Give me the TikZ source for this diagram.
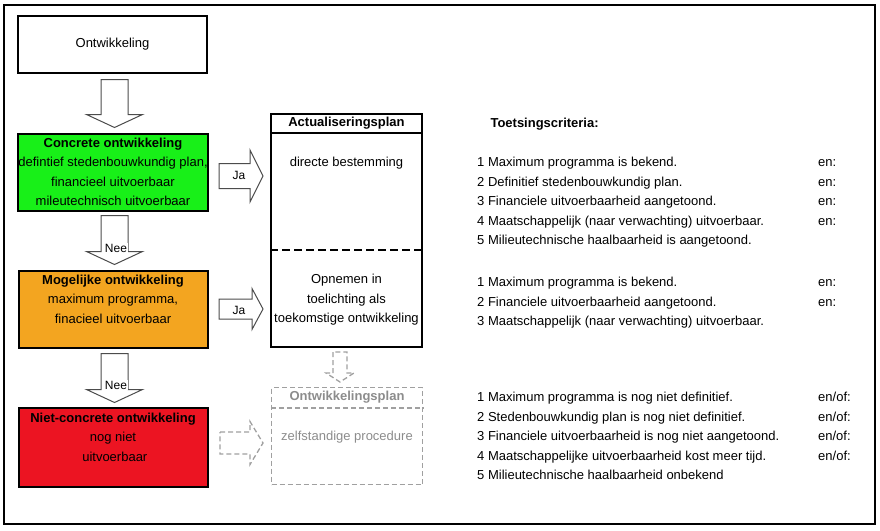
\documentclass[tikz,border=0pt]{standalone}
\usepackage{fontspec}
\setmainfont{Liberation Sans}
\usetikzlibrary{calc}
\definecolor{groen}{RGB}{24,240,24}
\definecolor{oranje}{RGB}{243,165,32}
\definecolor{rood}{RGB}{236,20,34}
\definecolor{grijs}{RGB}{160,160,160}
\def\pijlneer[#1](#2)(#3)(#4:#5:#6){\draw[#1] ($(#2)+(-#4,0)$) -- ($(#3)+(-#4,-#6)$) -- ($(#3)+(-#5,-#6)$) -- (#3) -- ($(#3)+(#5,-#6)$) -- ($(#3)+(#4,-#6)$) -- ($(#2)+(#4,0)$) -- cycle;}
\def\pijlrechts[#1](#2)(#3)(#4:#5:#6){\draw[#1] ($(#2)+(0,-#4)$) -- ($(#3)+(-#6,-#4)$) -- ($(#3)+(-#6,-#5)$) -- (#3) -- ($(#3)+(-#6,#5)$) -- ($(#3)+(-#6,#4)$) -- ($(#2)+(0,#4)$) -- cycle;}

\begin{document}
\begin{tikzpicture}[x=1pt, y=-1pt,
		every node/.style={font=\fontsize{13}{19.5}\selectfont},
		vak/.style={draw, line width=2pt, align=center, inner sep=0pt, minimum width=189},
		blok/.style={draw=black!70, line width=1pt, fill=white},
		stippelblok/.style={draw=grijs, line width=1.3pt, dash pattern=on 5pt off 3pt},
		grijstekst/.style={text=black!45},
		klein/.style={font=\fontsize{12}{14}\selectfont, inner sep=1pt}]
		%%%%% START %%%%%
		
		\useasboundingbox (0,0) rectangle (880,530);
		\draw[line width=2.5pt] (4,5) rectangle (875,524);
		
		% linker kolom
		\node[vak, minimum height=57] (ontw) at (112.5,44) {Ontwikkeling};
		\node[vak, fill=groen, minimum height=77] (concreet) at (113,172) {\textbf{Concrete ontwikkeling}\\defintief stedenbouwkundig plan,\\financieel uitvoerbaar\\mileutechnisch uitvoerbaar};
		\node[vak, fill=oranje, minimum height=77] (mogelijk) at (113,309) {\textbf{Mogelijke ontwikkeling}\\maximum programma,\\finacieel uitvoerbaar\\\mbox{}};
		\node[vak, fill=rood, minimum height=79] (nietconcreet) at (113,447) {\textbf{Niet-concrete ontwikkeling}\\nog niet\\\ uitvoerbaar\\\mbox{}};
		
		\coordinate (n1a) at ($(ontw.south)+(2,6)$);
		\coordinate (n1b) at ($(concreet.north)+(1.5,-5)$);
		\coordinate (n2a) at ($(concreet.south)+(1.5,4)$);
		\coordinate (n2b) at ($(mogelijk.north)+(1.5,-5)$);
		\coordinate (n3a) at ($(mogelijk.south)+(1.5,5)$);
		\coordinate (n3b) at ($(nietconcreet.north)+(1.5,-4)$);
		\pijlneer[blok](n1a)(n1b)(13.5:28:13);
		\pijlneer[blok](n2a)(n2b)(13.5:28:13);
		\pijlneer[blok](n3a)(n3b)(13.5:28:13);
		\node[klein, fill=white] (nee1) at (116,248) {Nee};
		\node[klein, fill=white] (nee2) at (116,385) {Nee};
		
		% ja pijlen
		\coordinate (ja1a) at (219,176);
		\coordinate (ja1b) at (263,176);
		\coordinate (ja2a) at (219,309);
		\coordinate (ja2b) at (263,309);
		\coordinate (ja3a) at (220,443);
		\coordinate (ja3b) at (263,443);
		\pijlrechts[blok](ja1a)(ja1b)(12.5:26:13);
		\pijlrechts[blok](ja2a)(ja2b)(10:20.5:11);
		\pijlrechts[stippelblok](ja3a)(ja3b)(11:21.5:13);
		\node[klein] (ja1) at (239,175) {Ja};
		\node[klein] (ja2) at (239,310) {Ja};
		
		% actualiseringsplan
		\node[draw, line width=2pt, minimum width=151, minimum height=233] (actplan) at (346.5,230.5) {};
		\draw[line width=2pt] ($(actplan.north west)+(0,20)$) -- ($(actplan.north east)+(0,20)$);
		\draw[line width=2pt, dash pattern=on 8pt off 4pt] ($(actplan.north west)+(0,137)$) -- ($(actplan.north east)+(0,137)$);
		\node (acttitel) at (346.5,123) {\textbf{Actualiseringsplan}};
		\node (direct) at (346.5,163) {directe bestemming};
		\node[align=center] (opnemen) at (346.5,300) {Opnemen in\\toelichting als\\toekomstige ontwikkeling};
		
		% ontwikkelingsplan
		\coordinate (s1a) at ($(actplan.south)+(-6.5,4)$);
		\coordinate (s1b) at ($(actplan.south)+(-6.5,34)$);
		\pijlneer[stippelblok](s1a)(s1b)(7:14:9);
		\node[stippelblok, minimum width=151, minimum height=97] (ontwplan) at (347,436) {};
		\draw[stippelblok] ($(ontwplan.north west)+(0,21)$) -- ($(ontwplan.north east)+(0,21)$);
		\node[grijstekst] (ontwtitel) at (347,397) {\textbf{Ontwikkelingsplan}};
		\node[grijstekst] (zelf) at (347,437) {zelfstandige procedure};
		
		% toetsingscriteria
		\node[anchor=west] (toets) at (487,124) {\textbf{Toetsingscriteria:}};
		\node[anchor=north west, inner sep=0pt] (crit1) at (477,153) {\begin{tabular}{@{}p{341pt}@{}l@{}}
			1 Maximum programma is bekend. & en:\\
			2 Definitief stedenbouwkundig plan. & en:\\
			3 Financiele uitvoerbaarheid aangetoond. & en:\\
			4 Maatschappelijk (naar verwachting) uitvoerbaar. & en:\\
			5 Milieutechnische haalbaarheid is aangetoond. &
		\end{tabular}};
		\node[anchor=north west, inner sep=0pt] (crit2) at (477,273) {\begin{tabular}{@{}p{341pt}@{}l@{}}
			1 Maximum programma is bekend. & en:\\
			2 Financiele uitvoerbaarheid aangetoond. & en:\\
			3 Maatschappelijk (naar verwachting) uitvoerbaar. &
		\end{tabular}};
		\node[anchor=north west, inner sep=0pt] (crit3) at (477,388) {\begin{tabular}{@{}p{341pt}@{}l@{}}
			1 Maximum programma is nog niet definitief. & en/of:\\
			2 Stedenbouwkundig plan is nog niet definitief. & en/of:\\
			3 Financiele uitvoerbaarheid is nog niet aangetoond. & en/of:\\
			4 Maatschappelijke uitvoerbaarheid kost meer tijd. & en/of:\\
			5 Milieutechnische haalbaarheid onbekend &
		\end{tabular}};
		
		%%%%% END %%%%%
	\end{tikzpicture}
\end{document}
